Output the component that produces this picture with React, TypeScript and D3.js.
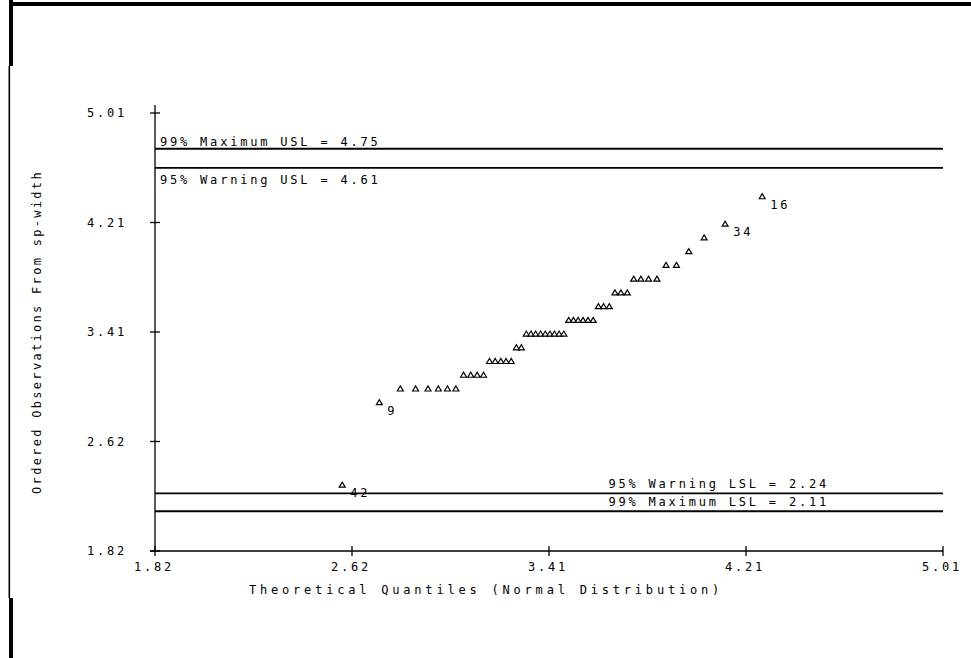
import * as d3 from "d3"

// ordered observations (sepal width, sorted)
const observed = [
  2.3, 2.9,
  3.0, 3.0, 3.0, 3.0, 3.0, 3.0,
  3.1, 3.1, 3.1, 3.1,
  3.2, 3.2, 3.2, 3.2, 3.2,
  3.3, 3.3,
  3.4, 3.4, 3.4, 3.4, 3.4, 3.4, 3.4, 3.4, 3.4,
  3.5, 3.5, 3.5, 3.5, 3.5, 3.5,
  3.6, 3.6, 3.6,
  3.7, 3.7, 3.7,
  3.8, 3.8, 3.8, 3.8,
  3.9, 3.9,
  4.0, 4.1, 4.2, 4.4,
]

// theoretical quantiles
const theoretical = [
  2.578, 2.728, 2.813, 2.875, 2.925, 2.967, 3.004, 3.038, 3.069, 3.098,
  3.124, 3.150, 3.174, 3.197, 3.220, 3.241, 3.262, 3.283, 3.303, 3.323,
  3.342, 3.361, 3.381, 3.400, 3.419, 3.437, 3.456, 3.475, 3.495, 3.514,
  3.533, 3.553, 3.573, 3.594, 3.615, 3.636, 3.659, 3.682, 3.706, 3.732,
  3.758, 3.787, 3.818, 3.852, 3.889, 3.931, 3.981, 4.043, 4.128, 4.278,
]

// which ordered points carry an observation number
const labelledRanks = [0, 1, 48, 49]
const labelledObs = ["42", "9", "34", "16"]

const tickValues = [1.82, 2.6175, 3.415, 4.2125, 5.01]
const tickLabels = ["1.82", "2.62", "3.41", "4.21", "5.01"]

const upperLimits = [4.75, 4.61]
const upperLabels = ["99% Maximum USL = 4.75", "95% Warning USL = 4.61"]
const lowerLimits = [2.24, 2.11]
const lowerLabels = ["95% Warning LSL = 2.24", "99% Maximum LSL = 2.11"]

const W = 971
const H = 658
const font = "'DejaVu Sans Mono', monospace"

export default function App() {
  const x = d3.scaleLinear().domain([1.82, 5.01]).range([155, 943])
  const y = d3.scaleLinear().domain([1.82, 5.01]).range([551, 113])
  const x0 = x(1.82)
  const x1 = x(5.01)
  const yb = y(1.82)

  const tri = "M-3,2L0,-3L3,2Z"
  const txt = { fontFamily: font, fontSize: 12, letterSpacing: 2.8, fill: "#000" }

  return (
    <div style={{ position: "fixed", left: 0, top: 0, width: W, height: H, background: "#fff" }}>
      <svg width={W} height={H} viewBox={`0 0 ${W} ${H}`} style={{ display: "block" }}>
        <rect width={W} height={H} fill="#fff" />
        {/* window frame */}
        <rect x={9} y={2} width={W - 9} height={4} fill="#000" />
        <rect x={9} y={0} width={4} height={66} fill="#000" />
        <rect x={8.5} y={66} width={1.6} height={532} fill="#000" />
        <rect x={9} y={598} width={4} height={H - 598} fill="#000" />

        {/* axes */}
        <line x1={x0} x2={x0} y1={105} y2={yb} stroke="#000" strokeWidth={1.3} />
        <line x1={x0 - 5} x2={x1} y1={yb} y2={yb} stroke="#000" strokeWidth={1.3} />
        {tickValues.map((t, i) => (
          <g key={"yt" + i}>
            <line x1={x0 - 5} x2={x0 + 5} y1={y(t)} y2={y(t)} stroke="#000" strokeWidth={1.3} />
            <text x={127} y={y(t) + 4} textAnchor="end" style={txt}>{tickLabels[i]}</text>
          </g>
        ))}
        {tickValues.map((t, i) => (
          <g key={"xt" + i}>
            <line x1={x(t)} x2={x(t)} y1={yb - 5} y2={yb + 5} stroke="#000" strokeWidth={1.3} />
            <text x={x(t) - 1} y={yb + 20} textAnchor="middle" style={txt}>{tickLabels[i]}</text>
          </g>
        ))}

        {/* specification limits */}
        {upperLimits.map((v, i) => (
          <g key={"u" + i}>
            <line x1={x0} x2={x1} y1={y(v)} y2={y(v)} stroke="#000" strokeWidth={i === 0 ? 2 : 1.6} />
            <text x={x0 + 5} y={i === 0 ? y(v) - 3 : y(v) + 16} style={txt}>{upperLabels[i]}</text>
          </g>
        ))}
        {lowerLimits.map((v, i) => (
          <g key={"l" + i}>
            <line x1={x0} x2={x1} y1={y(v)} y2={y(v)} stroke="#000" strokeWidth={i === 0 ? 1.6 : 2} />
            <text x={829} y={y(v) - 5} textAnchor="end" style={txt}>{lowerLabels[i]}</text>
          </g>
        ))}

        {/* points */}
        {observed.map((v, i) => (
          <path key={"p" + i} d={tri} transform={`translate(${x(theoretical[i])},${y(v)})`}
            fill="#fff" stroke="#000" strokeWidth={1.2} />
        ))}
        {labelledRanks.map((r, i) => (
          <text key={"lab" + i} x={x(theoretical[r]) + 8} y={y(observed[r]) + 12} style={txt}>
            {labelledObs[i]}
          </text>
        ))}

        {/* axis titles */}
        <text x={486} y={594} textAnchor="middle" style={{ ...txt, letterSpacing: 3.8 }}>
          Theoretical Quantiles (Normal Distribution)
        </text>
        <text transform="translate(41,332) rotate(-90)" textAnchor="middle" style={{ ...txt, letterSpacing: 2.3 }}>
          Ordered Observations From sp-width
        </text>
      </svg>
    </div>
  )
}
